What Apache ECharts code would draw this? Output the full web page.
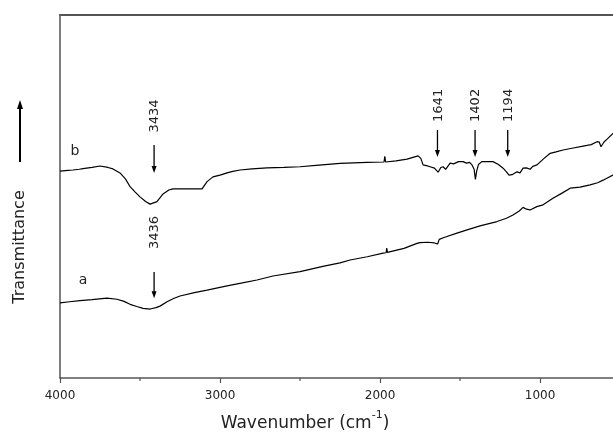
<!DOCTYPE html>
<html><head><meta charset="utf-8">
<script src="https://cdn.jsdelivr.net/npm/echarts@6/dist/echarts.min.js"></script>
<style>html,body{margin:0;padding:0;background:#fff}#c{width:613px;height:435px}</style>
</head><body><div id="c"></div>
<script>
// Wavenumber (cm-1), transmittance (arbitrary units)
const spectrumA = [
  [4000,20.7],[3940,21.0],[3875,21.3],[3800,21.6],[3706,22.0],[3644,21.7],[3600,21.1],[3562,20.3],
  [3520,19.7],[3481,19.2],[3437,19.0],[3400,19.4],[3375,19.8],[3331,21.0],[3290,21.9],[3250,22.6],
  [3160,23.5],[3081,24.2],[2956,25.4],[2860,26.2],[2769,27.0],[2669,28.1],[2500,29.3],[2350,30.8],
  [2250,31.7],[2187,32.5],[2080,33.4],[1981,34.4],[1962,34.5],[1958,35.8],[1954,34.6],[1850,35.7],
  [1769,37.1],[1750,37.3],[1700,37.4],[1660,37.2],[1640,36.9],[1630,38.2],[1600,38.7],[1519,39.9],
  [1456,40.8],[1375,41.9],[1269,43.1],[1210,44.0],[1169,44.9],[1130,46.0],[1106,47.0],[1085,46.5],
  [1062,46.3],[1020,47.2],[981,47.7],[919,49.5],[860,51.0],[812,52.3],[750,52.6],[687,53.2],
  [640,53.8],[606,54.5],[544,55.9],[500,56.6]
];
const spectrumB = [
  [4000,57.0],[3950,57.2],[3919,57.3],[3880,57.5],[3856,57.7],[3800,58.0],[3750,58.4],[3700,58.0],
  [3669,57.6],[3625,56.5],[3590,54.8],[3562,52.7],[3530,51.2],[3500,49.9],[3465,48.6],[3437,47.9],
  [3394,48.6],[3356,50.7],[3320,51.8],[3294,52.1],[3200,52.1],[3112,52.1],[3081,54.1],[3044,55.4],
  [3000,55.9],[2956,56.5],[2920,56.9],[2875,57.3],[2800,57.6],[2706,57.9],[2600,58.0],[2500,58.2],
  [2400,58.6],[2250,59.1],[2081,59.4],[1975,59.5],[1970,61.1],[1965,59.5],[1900,59.8],[1831,60.3],
  [1762,61.2],[1745,60.5],[1731,58.7],[1710,58.5],[1687,58.2],[1660,57.8],[1637,56.7],[1620,58.0],
  [1606,58.2],[1590,57.5],[1562,59.2],[1540,59.0],[1510,59.6],[1481,59.6],[1460,59.2],[1440,59.4],
  [1425,58.7],[1412,57.5],[1404,54.7],[1396,57.0],[1385,58.8],[1364,59.6],[1294,59.6],[1260,58.8],
  [1231,57.8],[1210,56.8],[1194,55.9],[1175,56.0],[1144,56.8],[1125,56.5],[1106,57.8],[1085,57.9],
  [1062,57.5],[1045,58.3],[1019,58.7],[980,60.3],[937,61.9],[900,62.3],[856,62.8],[800,63.3],
  [731,63.9],[680,64.3],[644,65.1],[630,65.0],[619,63.7],[600,65.0],[581,65.8],[544,67.4],[500,68.2]
];
const seriesNames = ['a', 'b'];
const majorTicks = [4000, 3000, 2000, 1000];
const minorTicks = [3500, 2500, 1500];
const peakLabels = ['3434', '3436', '1641', '1402', '1194'];
const peakWavenumbers = [3412, 3412, 1641, 1406, 1202];
const xAxisTitle = 'Wavenumber (cm';
const xAxisTitleSup = '-1';
const yAxisTitle = 'Transmittance';

const chart = echarts.init(document.getElementById('c'), null, {renderer: 'canvas'});
const axisColor = '#555';
const font = 'DejaVu Sans';
chart.setOption({
  animation: false,
  grid: {left: 60, top: 15, bottom: 57, right: 0},
  xAxis: [{
    type: 'value', min: 544, max: 4000, inverse: true, position: 'bottom',
    axisLine: {show: true, onZero: false, lineStyle: {color: axisColor, width: 1.5}},
    axisTick: {show: true, length: 5, customValues: majorTicks, lineStyle: {color: axisColor, width: 1.2}},
    axisLabel: {color: '#222', fontFamily: font, fontSize: 12, margin: 12, customValues: majorTicks,
      showMinLabel: true, showMaxLabel: true, formatter: v => String(v)},
    splitLine: {show: false}
  }, {
    type: 'value', min: 544, max: 4000, inverse: true, position: 'top',
    axisLine: {show: true, onZero: false, lineStyle: {color: axisColor, width: 2}},
    axisTick: {show: false}, axisLabel: {show: false}, splitLine: {show: false}
  }],
  yAxis: {
    type: 'value', min: 0, max: 100,
    axisLine: {show: true, onZero: false, lineStyle: {color: axisColor, width: 1.5}},
    axisTick: {show: false}, axisLabel: {show: false}, splitLine: {show: false}
  },
  series: [
    {type: 'line', name: seriesNames[0], data: spectrumA, symbol: 'none', showSymbol: false,
     lineStyle: {color: '#000', width: 1.2}, xAxisIndex: 0, yAxisIndex: 0},
    {type: 'line', name: seriesNames[1], data: spectrumB, symbol: 'none', showSymbol: false,
     lineStyle: {color: '#000', width: 1.2}, xAxisIndex: 0, yAxisIndex: 0}
  ]
});

// annotation layout (value units on the transmittance axis)
const annLayout = [
  {text: 72.2, top: 64.2, tip: 56.5},
  {text: 40.1, top: 29.2, tip: 22.0},
  {text: 75.1, top: 68.3, tip: 60.9},
  {text: 75.1, top: 68.3, tip: 60.9},
  {text: 75.1, top: 68.3, tip: 60.9}
];
const px = (x, y) => chart.convertToPixel({xAxisIndex: 0, yAxisIndex: 0}, [x, y]);
const g = [];
// minor ticks on the wavenumber axis
minorTicks.forEach(t => {
  const p = px(t, 0);
  g.push({type: 'line', shape: {x1: p[0], y1: p[1], x2: p[0], y2: p[1] + 3},
    style: {stroke: axisColor, lineWidth: 1.2}});
});
peakLabels.forEach((lab, i) => {
  const L = annLayout[i];
  const pT = px(peakWavenumbers[i], L.text);
  const pA = px(peakWavenumbers[i], L.top);
  const pB = px(peakWavenumbers[i], L.tip);
  g.push({type: 'text', x: pT[0] + 1, y: pT[1], rotation: Math.PI / 2,
    style: {text: lab, fontFamily: font, fontSize: 13, fill: '#222',
      align: 'center', verticalAlign: 'middle', textAlign: 'center', textVerticalAlign: 'middle'}});
  g.push({type: 'line', shape: {x1: pA[0], y1: pA[1], x2: pB[0], y2: pB[1] - 4},
    style: {stroke: '#000', lineWidth: 1.3}});
  g.push({type: 'polygon', shape: {points: [[pB[0] - 2.5, pB[1] - 7], [pB[0] + 2.5, pB[1] - 7], [pB[0], pB[1]]]},
    style: {fill: '#000'}});
});
// series labels
const labB = px(3906, 62.3), labA = px(3856, 27.0);
g.push({type: 'text', x: labB[0], y: labB[1], style: {text: seriesNames[1], fontFamily: font, fontSize: 14, fill: '#222',
  align: 'center', verticalAlign: 'middle', textAlign: 'center', textVerticalAlign: 'middle'}});
g.push({type: 'text', x: labA[0], y: labA[1], style: {text: seriesNames[0], fontFamily: font, fontSize: 14, fill: '#222',
  align: 'center', verticalAlign: 'middle', textAlign: 'center', textVerticalAlign: 'middle'}});
// y title with arrow
g.push({type: 'text', x: 20, y: 247, rotation: Math.PI / 2,
  style: {text: yAxisTitle, fontFamily: font, fontSize: 16, fill: '#222',
    align: 'center', verticalAlign: 'middle', textAlign: 'center', textVerticalAlign: 'middle'}});
g.push({type: 'line', shape: {x1: 20, y1: 162, x2: 20, y2: 106}, style: {stroke: '#000', lineWidth: 2}});
g.push({type: 'polygon', shape: {points: [[17, 109], [23, 109], [20, 100]]}, style: {fill: '#000'}});
// x title with superscript
g.push({type: 'text', x: 305, y: 421,
  style: {text: '{a|' + xAxisTitle + '}{s|' + xAxisTitleSup + '}{a|)}', fill: '#222',
    align: 'center', verticalAlign: 'middle', textAlign: 'center', textVerticalAlign: 'middle',
    rich: {a: {fontFamily: font, fontSize: 17, lineHeight: 22, verticalAlign: 'bottom', fill: '#222'},
           s: {fontFamily: font, fontSize: 11, lineHeight: 12, verticalAlign: 'top', fill: '#222'}}}});
chart.setOption({graphic: g});
</script>
</body></html>
